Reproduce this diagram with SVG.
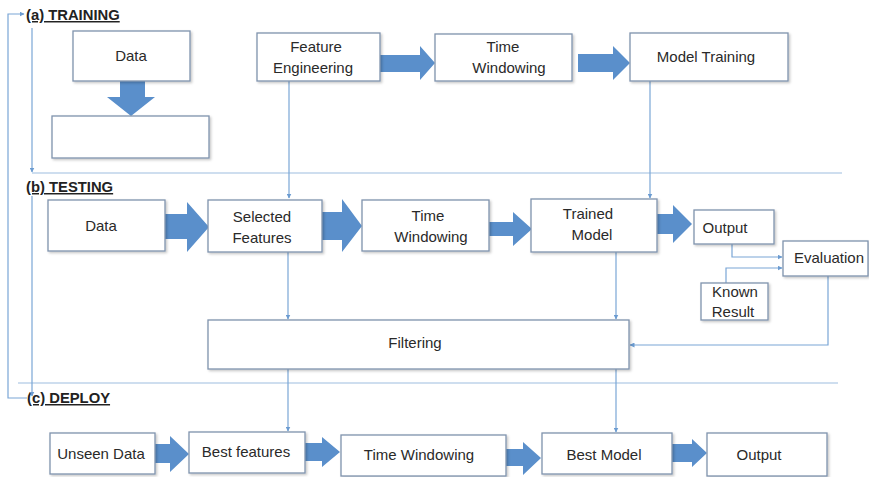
<svg xmlns="http://www.w3.org/2000/svg" width="869" height="477" viewBox="0 0 869 477">
<defs>
<filter id="sh" x="-5%" y="-10%" width="115%" height="130%">
<feDropShadow dx="1.5" dy="1.5" stdDeviation="1" flood-color="#000" flood-opacity="0.22"/>
</filter>
<marker id="ah" viewBox="0 0 10 10" refX="9" refY="5" markerWidth="5" markerHeight="5" markerUnits="userSpaceOnUse" orient="auto">
<path d="M0,0 L10,5 L0,10 z" fill="#6b9bd1"/>
</marker>
</defs>
<style>
.box{fill:#fff;stroke:#7f93ad;stroke-width:1.3;filter:url(#sh)}
.t{font-family:"Liberation Sans",Arial,sans-serif;font-size:15px;fill:#2a2a2a;text-anchor:middle}
.lbl{font-family:"Liberation Sans",Arial,sans-serif;font-size:14.8px;font-weight:bold;fill:#222;text-decoration:underline}
.ba{fill:#5a8fcb}
.cn{fill:none;stroke:#7aa6d6;stroke-width:1.2}
.sep{fill:none;stroke:#9dbde0;stroke-width:1.2}
</style>
<rect width="869" height="477" fill="#fff"/>

<text class="lbl" x="26" y="20">(a) TRAINING</text>
<text class="lbl" x="26" y="192">(b) TESTING</text>
<text class="lbl" x="27" y="403">(c) DEPLOY</text>

<line class="sep" x1="32" y1="173" x2="842" y2="173"/>
<line class="sep" x1="18" y1="383" x2="838" y2="383"/>

<g id="connectors">
<path class="cn" d="M289,81 V198" marker-end="url(#ah)"/>
<path class="cn" d="M650,81 V198" marker-end="url(#ah)"/>
<path class="cn" d="M288,252 V319" marker-end="url(#ah)"/>
<path class="cn" d="M616,252 V319" marker-end="url(#ah)"/>
<path class="cn" d="M288,369 V431" marker-end="url(#ah)"/>
<path class="cn" d="M616,369 V432" marker-end="url(#ah)"/>
<path class="cn" d="M732,244 V257 H782" marker-end="url(#ah)"/>
<path class="cn" d="M726,283 V268 H782" marker-end="url(#ah)"/>
<path class="cn" d="M828,276 V345 H630" marker-end="url(#ah)"/>
<path class="cn" d="M27,398 H8 V14 H24" marker-end="url(#ah)"/>
<path class="cn" d="M32,28 V172" marker-end="url(#ah)"/>
<path class="cn" d="M32,196 V396" marker-end="url(#ah)"/>
<polygon class="ba" points="120,81 145,81 145,97 155,97 131,116 107,97 120,97"/>
<polygon class="ba" points="380,55 420,55 420,46 435,63 420,80 420,72 380,72"/>
<polygon class="ba" points="578,54 613,54 613,46 630,63 613,80 613,72 578,72"/>
<polygon class="ba" points="165,214 187,214 187,202 209,227 187,252 187,239 165,239"/>
<polygon class="ba" points="322,212 342,212 342,199 362,226 342,252 342,240 322,240"/>
<polygon class="ba" points="489,222 513,222 513,212 532,229 513,246 513,236 489,236"/>
<polygon class="ba" points="657,214 673,214 673,205 692,224 673,243 673,234 657,234"/>
<polygon class="ba" points="155,444 170,444 170,436 189,454 170,472 170,463 155,463"/>
<polygon class="ba" points="305,443 322,443 322,437 340,452 322,467 322,461 305,461"/>
<polygon class="ba" points="505,449 523,449 523,442 541,458 523,475 523,466 505,466"/>
<polygon class="ba" points="672,444 692,444 692,439 707,453 692,467 692,462 672,462"/>
</g>

<g id="train-data"><rect class="box" x="73" y="31" width="117" height="50"/><text class="t" x="131" y="61">Data</text></g>
<g id="train-empty"><rect class="box" x="52" y="116" width="157" height="42"/></g>
<g id="feature-engineering"><rect class="box" x="257" y="33" width="123" height="48"/><text class="t" x="316" y="52">Feature</text><text class="t" x="313" y="73">Engineering</text></g>
<g id="train-time-windowing"><rect class="box" x="435" y="34" width="137" height="47"/><text class="t" x="503" y="52">Time</text><text class="t" x="509" y="73">Windowing</text></g>
<g id="model-training"><rect class="box" x="630" y="33" width="158" height="48"/><text class="t" x="706" y="62">Model Training</text></g>

<g id="test-data"><rect class="box" x="48" y="200" width="117" height="51"/><text class="t" x="101" y="231">Data</text></g>
<g id="selected-features"><rect class="box" x="208" y="200" width="114" height="52"/><text class="t" x="262" y="222">Selected</text><text class="t" x="262" y="243">Features</text></g>
<g id="test-time-windowing"><rect class="box" x="362" y="200" width="127" height="51"/><text class="t" x="428" y="221">Time</text><text class="t" x="431" y="242">Windowing</text></g>
<g id="trained-model"><rect class="box" x="531" y="199" width="126" height="53"/><text class="t" x="588" y="219">Trained</text><text class="t" x="592" y="240">Model</text></g>
<g id="test-output"><rect class="box" x="694" y="210" width="80" height="34"/><text class="t" x="725" y="233">Output</text></g>
<g id="evaluation"><rect class="box" x="783" y="241" width="85" height="35"/><text class="t" x="829" y="263">Evaluation</text></g>
<g id="known-result"><rect class="box" x="701" y="283" width="67" height="37"/><text class="t" x="735" y="297">Known</text><text class="t" x="733" y="317">Result</text></g>
<g id="filtering"><rect class="box" x="208" y="320" width="421" height="49"/><text class="t" x="415" y="348">Filtering</text></g>

<g id="unseen-data"><rect class="box" x="50" y="433" width="105" height="41"/><text class="t" x="101" y="459">Unseen Data</text></g>
<g id="best-features"><rect class="box" x="189" y="432" width="116" height="41"/><text class="t" x="246" y="457">Best features</text></g>
<g id="deploy-time-windowing"><rect class="box" x="341" y="435" width="165" height="41"/><text class="t" x="419" y="460">Time Windowing</text></g>
<g id="best-model"><rect class="box" x="542" y="433" width="130" height="41"/><text class="t" x="604" y="460">Best Model</text></g>
<g id="deploy-output"><rect class="box" x="707" y="433" width="120" height="43"/><text class="t" x="759" y="460">Output</text></g>
</svg>
